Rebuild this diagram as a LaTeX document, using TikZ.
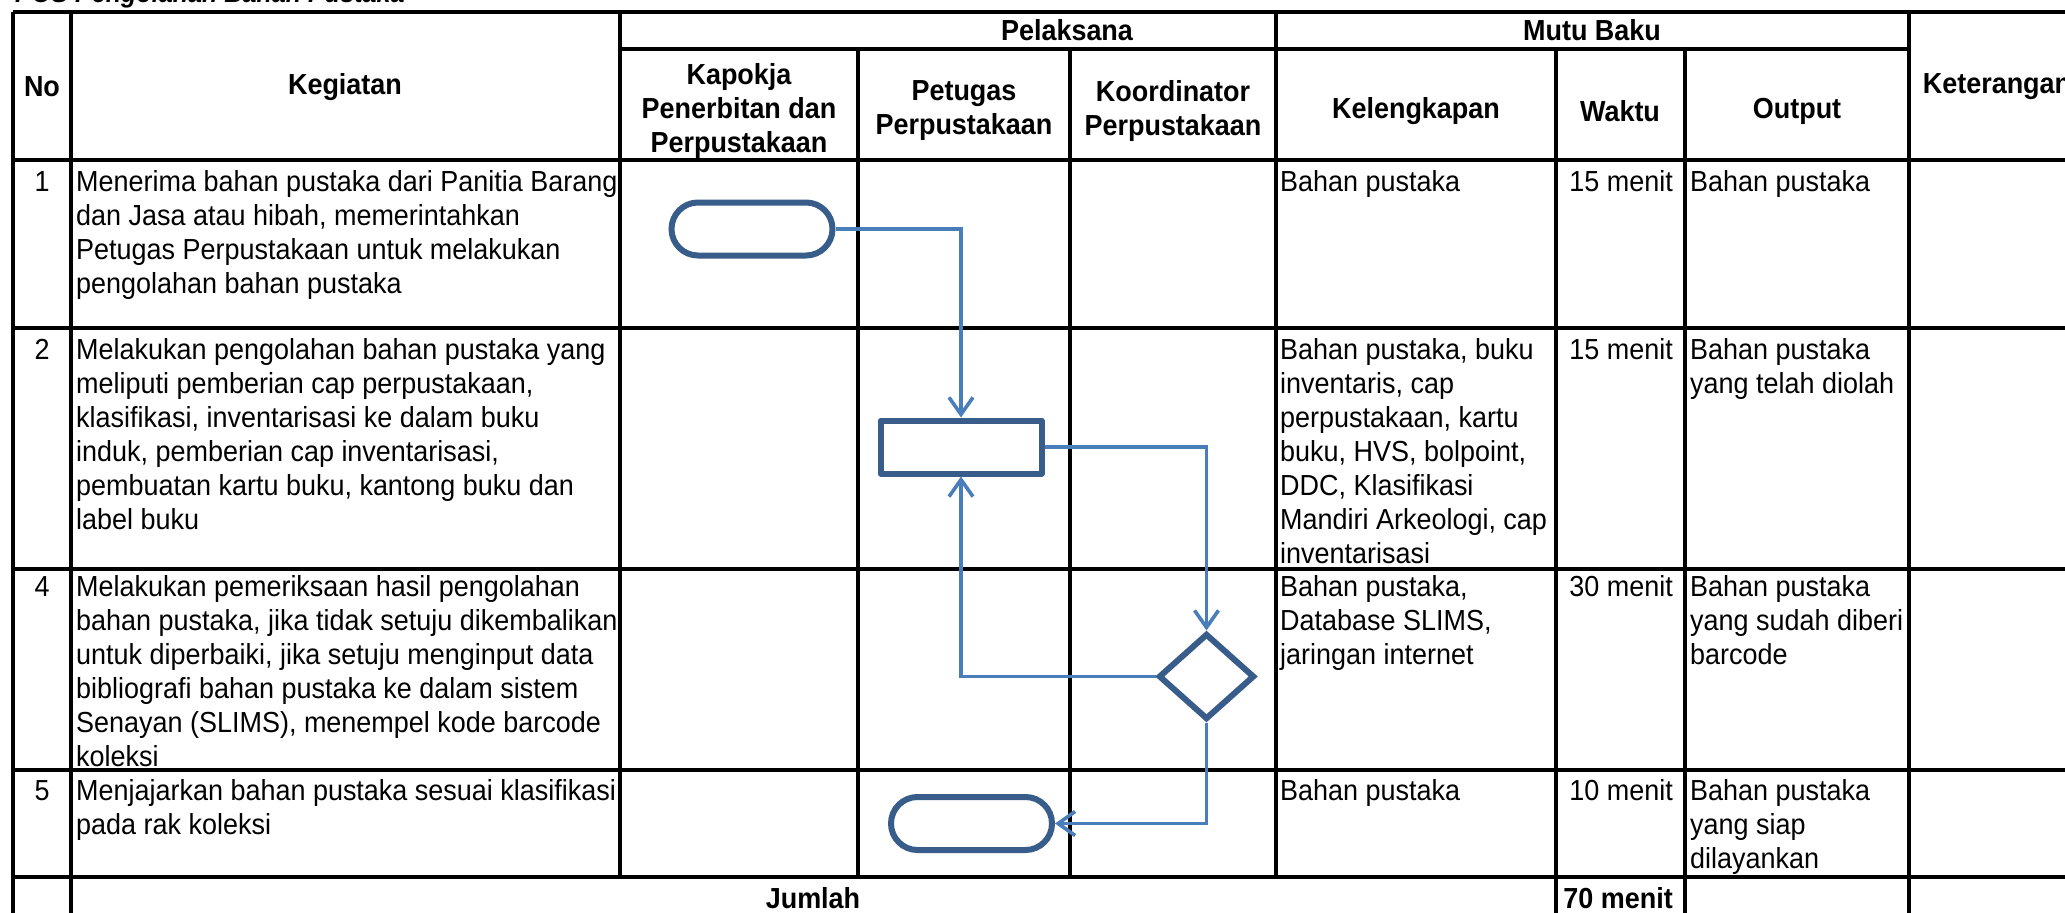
\documentclass[tikz,border=0pt]{standalone}
\usepackage{fontspec}
\setmainfont{Liberation Sans}[FakeStretch=0.93]
\usetikzlibrary{arrows.meta,shapes.geometric}
\definecolor{shapeblue}{HTML}{385D8A}
\definecolor{linkblue}{HTML}{4A7EBB}
\newcommand\cellfont{\fontsize{29}{34}\selectfont}
\newcommand\headfont{\bfseries\fontsize{29}{34}\selectfont}
\newcommand\titlefont{\bfseries\itshape\fontsize{27}{32}\selectfont}
\begin{document}
\begin{tikzpicture}[x=1pt,y=-1pt,
  grid/.style={line width=3.4pt, line cap=square},
  cell/.style={anchor=north west, inner sep=0pt, align=left, font=\cellfont},
  cellr/.style={anchor=north east, inner sep=0pt, align=right, font=\cellfont},
  cellc/.style={anchor=north, inner sep=0pt, align=center, font=\cellfont},
  head/.style={anchor=center, inner sep=0pt, align=center, font=\headfont},
  term/.style={draw=shapeblue, line width=6pt, rounded corners=26.5pt, minimum width=161pt, minimum height=53pt, inner sep=0pt},
  proc/.style={draw=shapeblue, line width=6pt, line join=round, minimum width=161pt, minimum height=53pt, inner sep=0pt},
  decis/.style={draw=shapeblue, line width=6pt, diamond, minimum width=96pt, minimum height=86pt, inner sep=0pt},
  link/.style={draw=linkblue, line width=3.6pt},
  linkarrow/.style={link, -{Straight Barb[length=17pt,width=24pt]}},
]
\useasboundingbox (0,0) rectangle (2065,913);
\clip (0,0) rectangle (2065,913);
\fill[white] (0,0) rectangle (2065,913);

% title (cut at top)
\node[anchor=base west, inner sep=0pt, font=\titlefont] (title) at (15,2) {POS Pengolahan Bahan Pustaka};

% grid lines
\def\xL{13}\def\xNo{71}\def\xKeg{620}\def\xKap{858}\def\xPet{1070}\def\xKoo{1276}
\def\xKel{1556}\def\xWak{1685}\def\xOut{1909}\def\xR{2085}
\def\yT{12}\def\ySub{49}\def\yH{160}\def\yA{328}\def\yB{569}\def\yC{770}\def\yD{877}\def\yE{935}
\foreach \y in {\yT,\yH,\yA,\yB,\yC,\yD,\yE} \draw[grid] (\xL,\y) -- (\xR,\y);
\draw[grid] (\xKeg,\ySub) -- (\xOut,\ySub);
\foreach \x in {\xL,\xNo,\xOut,\xR} \draw[grid] (\x,\yT) -- (\x,\yE);
\draw[grid] (\xKeg,\yT) -- (\xKeg,\yD);
\draw[grid] (\xKoo,\yT) -- (\xKoo,\yD);
\draw[grid] (\xKap,\ySub) -- (\xKap,\yD);
\draw[grid] (\xPet,\ySub) -- (\xPet,\yD);
\draw[grid] (\xKel,\ySub) -- (\xKel,\yE);
\draw[grid] (\xWak,\ySub) -- (\xWak,\yE);

% header
\node[head] (hNo) at (42,87) {No};
\node[head] (hKeg) at (345,87) {Kegiatan};
\node[head] (hPel) at (1067,30) {Pelaksana};
\node[head] (hMutu) at (1592,30) {Mutu Baku};
\node[head] (hKap) at (739,111) {Kapokja\\Penerbitan dan\\Perpustakaan};
\node[head] (hPet) at (964,111) {Petugas\\Perpustakaan};
\node[head] (hKoo) at (1173,111) {Koordinator\\Perpustakaan};
\node[head] (hKel) at (1416,111) {Kelengkapan};
\node[head] (hWak) at (1620,111) {Waktu};
\node[head] (hOut) at (1797,111) {Output};
\node[head] (hKet) at (1997,87) {Keterangan};

% row 1
\node[cellc] (n1) at (42,167) {\strut 1};
\node[cell] (k1) at (76,167) {\strut Menerima bahan pustaka dari Panitia Barang\\dan Jasa atau hibah, memerintahkan\\Petugas Perpustakaan untuk melakukan\\pengolahan bahan pustaka};
\node[cell] (l1) at (1280,167) {\strut Bahan pustaka};
\node[cellr] (w1) at (1673,167) {\strut 15 menit};
\node[cell] (o1) at (1690,167) {\strut Bahan pustaka};

% row 2
\node[cellc] (n2) at (42,335) {\strut 2};
\node[cell] (k2) at (76,335) {\strut Melakukan pengolahan bahan pustaka yang\\meliputi pemberian cap perpustakaan,\\klasifikasi, inventarisasi ke dalam buku\\induk, pemberian cap inventarisasi,\\pembuatan kartu buku, kantong buku dan\\label buku};
\node[cell] (l2) at (1280,335) {\strut Bahan pustaka, buku\\inventaris, cap\\perpustakaan, kartu\\buku, HVS, bolpoint,\\DDC, Klasifikasi\\Mandiri Arkeologi, cap\\inventarisasi};
\node[cellr] (w2) at (1673,335) {\strut 15 menit};
\node[cell] (o2) at (1690,335) {\strut Bahan pustaka\\yang telah diolah};

% row 3
\node[cellc] (n3) at (42,572) {\strut 4};
\node[cell] (k3) at (76,572) {\strut Melakukan pemeriksaan hasil pengolahan\\bahan pustaka, jika tidak setuju dikembalikan\\untuk diperbaiki, jika setuju menginput data\\bibliografi bahan pustaka ke dalam sistem\\Senayan (SLIMS), menempel kode barcode\\koleksi};
\node[cell] (l3) at (1280,572) {\strut Bahan pustaka,\\Database SLIMS,\\jaringan internet};
\node[cellr] (w3) at (1673,572) {\strut 30 menit};
\node[cell] (o3) at (1690,572) {\strut Bahan pustaka\\yang sudah diberi\\barcode};

% row 4
\node[cellc] (n4) at (42,776) {\strut 5};
\node[cell] (k4) at (76,776) {\strut Menjajarkan bahan pustaka sesuai klasifikasi\\pada rak koleksi};
\node[cell] (l4) at (1280,776) {\strut Bahan pustaka};
\node[cellr] (w4) at (1673,776) {\strut 10 menit};
\node[cell] (o4) at (1690,776) {\strut Bahan pustaka\\yang siap\\dilayankan};

% total row
\node[anchor=base, inner sep=0pt, font=\headfont] (jml) at (813,908) {Jumlah};
\node[anchor=base east, inner sep=0pt, font=\headfont] (tot) at (1673,908) {70 menit};

% flowchart
\node[term] (t1) at (752,229) {};
\node[proc] (pr) at (961,447) {};
\node[decis] (dc) at (1206.5,676.5) {};
\node[term] (t2) at (971.5,823.5) {};

\draw[linkarrow] (t1.east) -| (pr.north);
\draw[linkarrow] (pr.east) -| (dc.north);
\draw[linkarrow] (dc.west) -| (pr.south);
\draw[linkarrow] (dc.south) |- (t2.east);
\end{tikzpicture}
\end{document}
